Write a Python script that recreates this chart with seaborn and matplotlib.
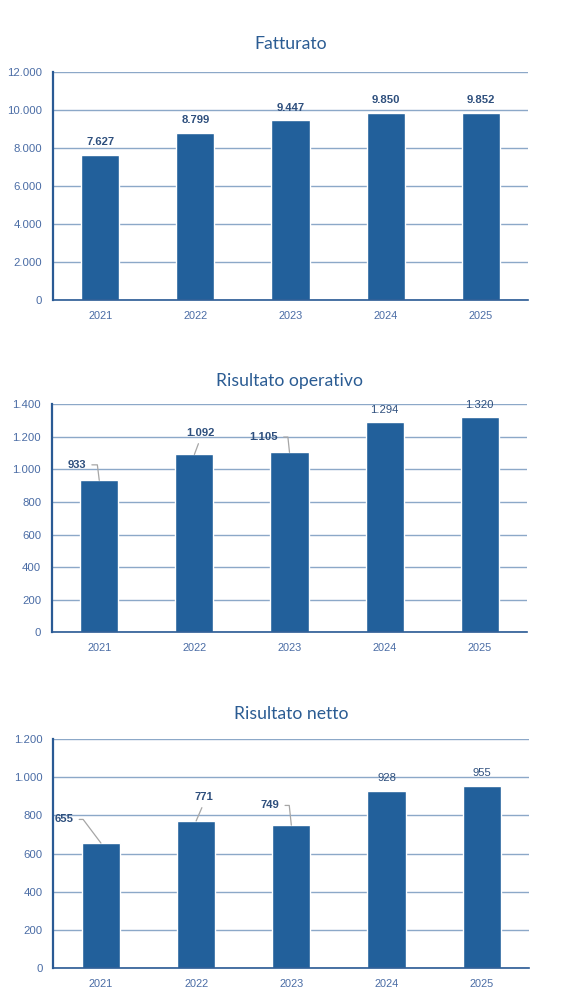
import matplotlib
matplotlib.use("Agg")
import matplotlib.pyplot as plt
import seaborn as sns
import numpy as np

# ---- data ----
years = ["2021", "2022", "2023", "2024", "2025"]
fatturato = [7627, 8799, 9447, 9850, 9852]
risultato_operativo = [933, 1092, 1105, 1294, 1320]
risultato_netto = [655, 771, 749, 928, 955]
titles = ["Fatturato", "Risultato operativo", "Risultato netto"]
yticks_fatt = [0, 2000, 4000, 6000, 8000, 10000, 12000]
yticks_op = [0, 200, 400, 600, 800, 1000, 1200, 1400]
yticks_netto = [0, 200, 400, 600, 800, 1000, 1200]

# ---- style ----
sns.set_theme(style="white")
plt.rcParams["font.family"] = ["Liberation Sans", "DejaVu Sans"]

BAR = "#22609B"
GRID = "#8CA8C8"
AXIS = "#2A5A94"
TICK = "#4A6CA5"
LABEL = "#2E4F7D"
TITLE = "#2B5C93"
LEADER = "#A6A6A6"

def fmt(v):
    return f"{v:,}".replace(",", ".")

fig = plt.figure(figsize=(5.79, 10.06), dpi=100)

panels = [
    dict(values=fatturato, yticks=yticks_fatt, title=titles[0],
         rect=[0.0910, 0.70179, 0.8214, 0.22694], pad=16),
    dict(values=risultato_operativo, yticks=yticks_op, title=titles[1],
         rect=[0.0893, 0.37147, 0.8214, 0.22664], pad=13),
    dict(values=risultato_netto, yticks=yticks_netto, title=titles[2],
         rect=[0.0921, 0.03807, 0.8221, 0.22704], pad=14.5),
]

# label placement (offset in pixels from bar top, leader style)
above = dict(off=(0, 12.5), conn=None, bold=True)
label_layout = [
    [above] * 5,
    [
        dict(off=(-22, 15.5), conn="angle,angleA=0,angleB=97,rad=0", relpos=(1, 0.5), bold=True),
        dict(off=(6, 21), conn="arc3,rad=0", relpos=(0.5, 0), bold=True),
        dict(off=(-25.5, 15.3), conn="angle,angleA=0,angleB=96,rad=0", relpos=(1, 0.5), bold=True),
        dict(off=(0, 12), conn=None, bold=False),
        dict(off=(0, 12), conn=None, bold=False),
    ],
    [
        dict(off=(-36.6, 23.6), conn="angle,angleA=0,angleB=127,rad=0", relpos=(1, 0.5), bold=True),
        dict(off=(8, 23.5), conn="arc3,rad=0", relpos=(0.5, 0), bold=True),
        dict(off=(-21, 19.7), conn="angle,angleA=0,angleB=96,rad=0", relpos=(1, 0.5), bold=True),
        dict(off=(0, 12.7), conn=None, bold=False),
        dict(off=(0, 12.6), conn=None, bold=False),
    ],
]

for p, layout in zip(panels, label_layout):
    ax = fig.add_axes(p["rect"])
    sns.barplot(x=years, y=p["values"], color=BAR, saturation=1, width=0.4, ax=ax, zorder=3)
    ax.set_xlim(-0.5, len(years) - 0.5)
    ax.set_ylim(p["yticks"][0], p["yticks"][-1])
    ax.set_yticks(p["yticks"])
    ax.set_yticklabels([fmt(t) for t in p["yticks"]])
    ax.set_xlabel("")
    ax.set_ylabel("")
    ax.yaxis.grid(True, color=GRID, lw=1.0, zorder=0)
    ax.set_axisbelow(True)
    for s in ["top", "right"]:
        ax.spines[s].set_visible(False)
    ax.spines["left"].set_color(AXIS)
    ax.spines["left"].set_linewidth(1.6)
    ax.spines["bottom"].set_color(AXIS)
    ax.spines["bottom"].set_linewidth(1.2)
    ax.spines["bottom"].set_zorder(4)
    ax.tick_params(axis="y", length=0, pad=7.6, labelsize=8.2, labelcolor=TICK)
    ax.tick_params(axis="x", which="major", length=0, pad=7.8, labelsize=7.9, labelcolor=TICK)
    ax.set_xticks(np.arange(-0.5, len(years), 1.0), minor=True)
    ax.tick_params(axis="x", which="minor", length=4.5, width=1.0, color=AXIS, direction="out")
    ax.set_title(p["title"], fontsize=12.7, color=TITLE, family=["Lato", "DejaVu Sans"],
                 pad=p["pad"])

    for i, (v, lay) in enumerate(zip(p["values"], layout)):
        kw = dict(xy=(i, v), xytext=lay["off"], textcoords="offset pixels",
                  ha="center", va="center", fontsize=8.1, color=LABEL,
                  fontweight="bold" if lay["bold"] else "normal", zorder=5,
                  annotation_clip=False)
        if lay["conn"] is not None:
            kw["arrowprops"] = dict(arrowstyle="-", color=LEADER, lw=0.9,
                                    connectionstyle=lay["conn"], relpos=lay["relpos"],
                                    shrinkA=1.5, shrinkB=0)
        ax.annotate(fmt(v), **kw)

fig.savefig("out.png", dpi=100)
